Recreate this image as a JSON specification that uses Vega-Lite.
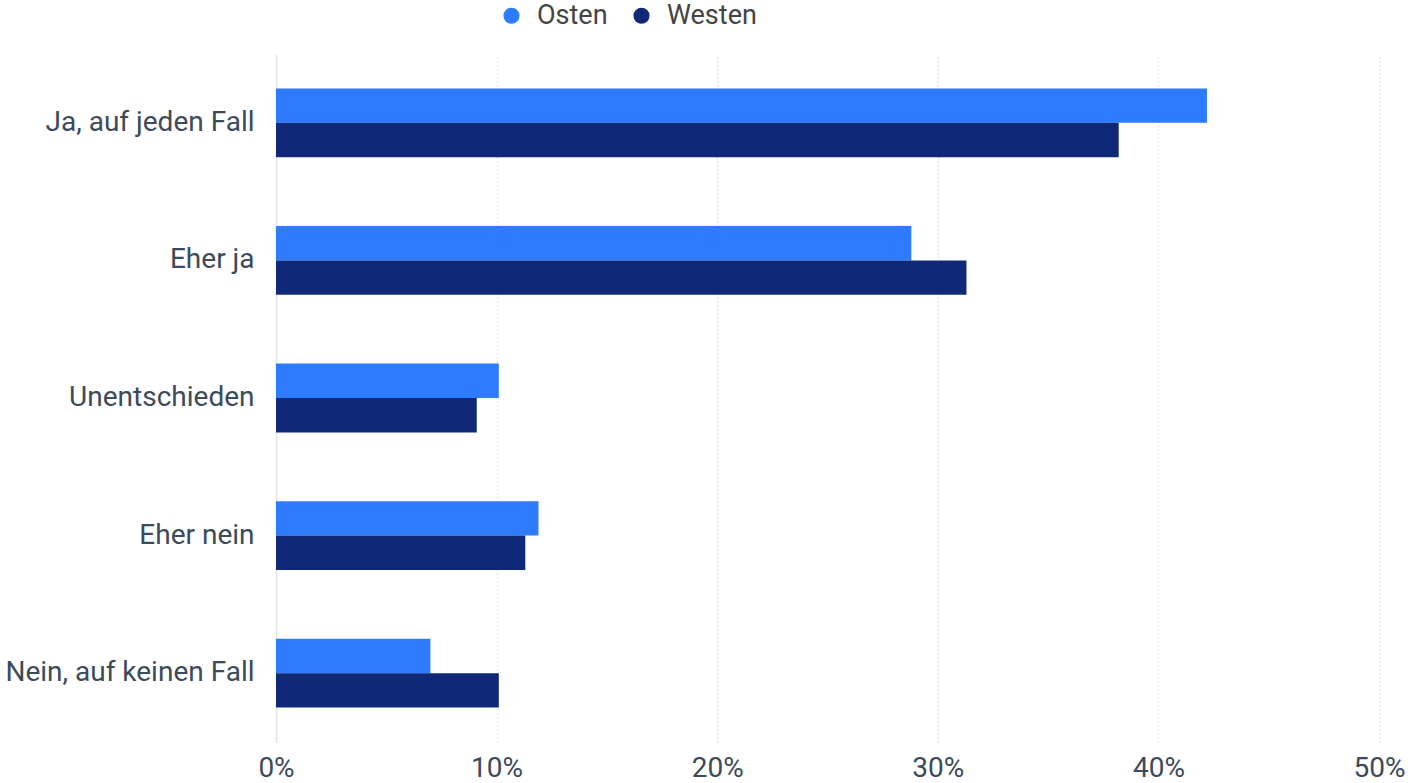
{
  "$schema": "https://vega.github.io/schema/vega-lite/v6.json",
  "width": 1103,
  "height": 688,
  "autosize": "none",
  "padding": {"left": 276, "top": 54, "right": 29, "bottom": 41},
  "background": "white",
  "data": {
    "values": [
      {"antwort": "Ja, auf jeden Fall", "region": "Osten", "wert": 42.2},
      {"antwort": "Ja, auf jeden Fall", "region": "Westen", "wert": 38.2},
      {"antwort": "Eher ja", "region": "Osten", "wert": 28.8},
      {"antwort": "Eher ja", "region": "Westen", "wert": 31.3},
      {"antwort": "Unentschieden", "region": "Osten", "wert": 10.1},
      {"antwort": "Unentschieden", "region": "Westen", "wert": 9.1},
      {"antwort": "Eher nein", "region": "Osten", "wert": 11.9},
      {"antwort": "Eher nein", "region": "Westen", "wert": 11.3},
      {"antwort": "Nein, auf keinen Fall", "region": "Osten", "wert": 7.0},
      {"antwort": "Nein, auf keinen Fall", "region": "Westen", "wert": 10.1}
    ]
  },
  "mark": {"type": "bar"},
  "encoding": {
    "y": {
      "field": "antwort",
      "type": "nominal",
      "sort": ["Ja, auf jeden Fall", "Eher ja", "Unentschieden", "Eher nein", "Nein, auf keinen Fall"],
      "scale": {"paddingInner": 0.5, "paddingOuter": 0.25},
      "axis": {
        "title": null,
        "ticks": false,
        "domain": true,
        "domainColor": "#e2e5ea",
        "domainWidth": 1.5,
        "labelFont": "Roboto",
        "labelFontSize": 28,
        "labelColor": "#3c4a5a",
        "labelPadding": 22,
        "labelLimit": 400
      }
    },
    "yOffset": {"field": "region", "type": "nominal", "sort": ["Osten", "Westen"], "scale": {"paddingInner": 0, "paddingOuter": 0}},
    "x": {
      "field": "wert",
      "type": "quantitative",
      "scale": {"domain": [0, 50], "nice": false},
      "axis": {
        "title": null,
        "values": [0, 10, 20, 30, 40, 50],
        "labelExpr": "datum.value + '%'",
        "ticks": false,
        "domain": false,
        "grid": true,
        "gridColor": "#d9dce0",
        "gridDash": [1.5, 2.5],
        "gridWidth": 1.5,
        "labelFont": "Roboto",
        "labelFontSize": 28,
        "labelColor": "#3c4a5a",
        "labelPadding": 12,
        "labelFlush": false,
        "labelAlign": "center"
      }
    },
    "color": {
      "field": "region",
      "type": "nominal",
      "sort": ["Osten", "Westen"],
      "scale": {"domain": ["Osten", "Westen"], "range": ["#2e7bff", "#0f2877"]},
      "legend": {
        "title": null,
        "orient": "none",
        "direction": "horizontal",
        "legendX": 222,
        "legendY": -52,
        "symbolType": "circle",
        "symbolSize": 260,
        "labelFont": "Roboto",
        "labelFontSize": 27,
        "labelColor": "#444444",
        "columnPadding": 20,
        "labelOffset": 12
      }
    }
  },
  "config": {"view": {"stroke": null}}
}
